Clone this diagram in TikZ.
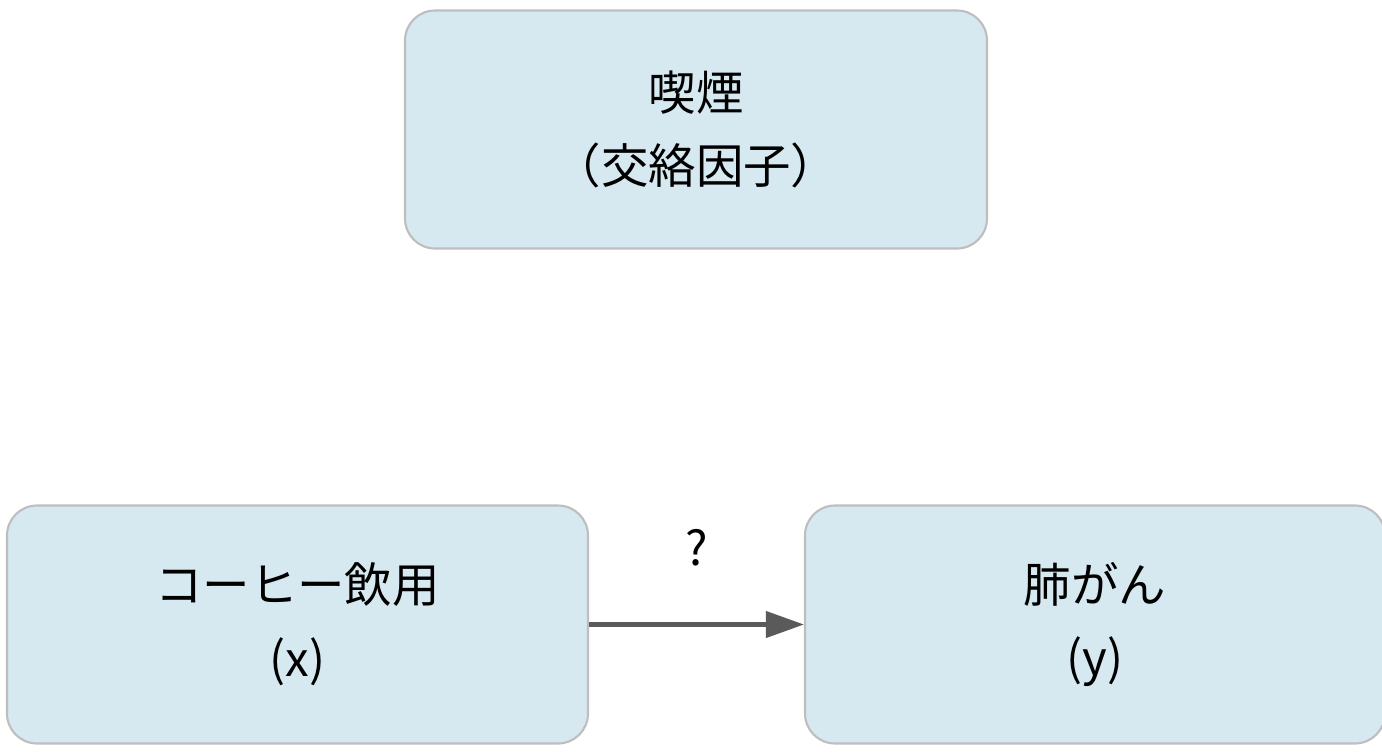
\documentclass[tikz,border=0pt]{standalone}
\usepackage{fontspec}
\setmainfont{Noto Sans CJK JP}
\usetikzlibrary{arrows.meta}
\definecolor{boxfill}{RGB}{214,232,240}
\definecolor{boxline}{RGB}{190,190,190}
\definecolor{arrowgray}{RGB}{90,90,90}
\tikzset{
  factor/.style={draw=boxline, line width=0.6pt, fill=boxfill, rounded corners=0.3cm,
    minimum width=5.8cm, minimum height=2.38cm, align=center,
    font=\fontsize{13.5}{21}\selectfont},
  effect/.style={-{Triangle[length=0.38cm,width=0.26cm]}, draw=arrowgray, line width=1.2pt}
}
\begin{document}
\begin{tikzpicture}
  \useasboundingbox (0,0) rectangle (13.82,7.52);
  % confounder on top
  \node [factor, minimum width=5.82cm] (smoke) at (6.96,6.225) {喫煙\\（交絡因子）};
  % exposure and outcome
  \node [factor, minimum width=5.81cm] (coffee) at (2.975,1.275) {コーヒー飲用\\(x)};
  \node [factor, minimum width=5.8cm] (cancer) at (10.95,1.275) {肺がん\\(y)};
  \draw [effect] (coffee) -- (cancer) node [midway, above=0.45cm, font=\fontsize{13.5}{16}\selectfont] (q) {?};
\end{tikzpicture}
\end{document}
